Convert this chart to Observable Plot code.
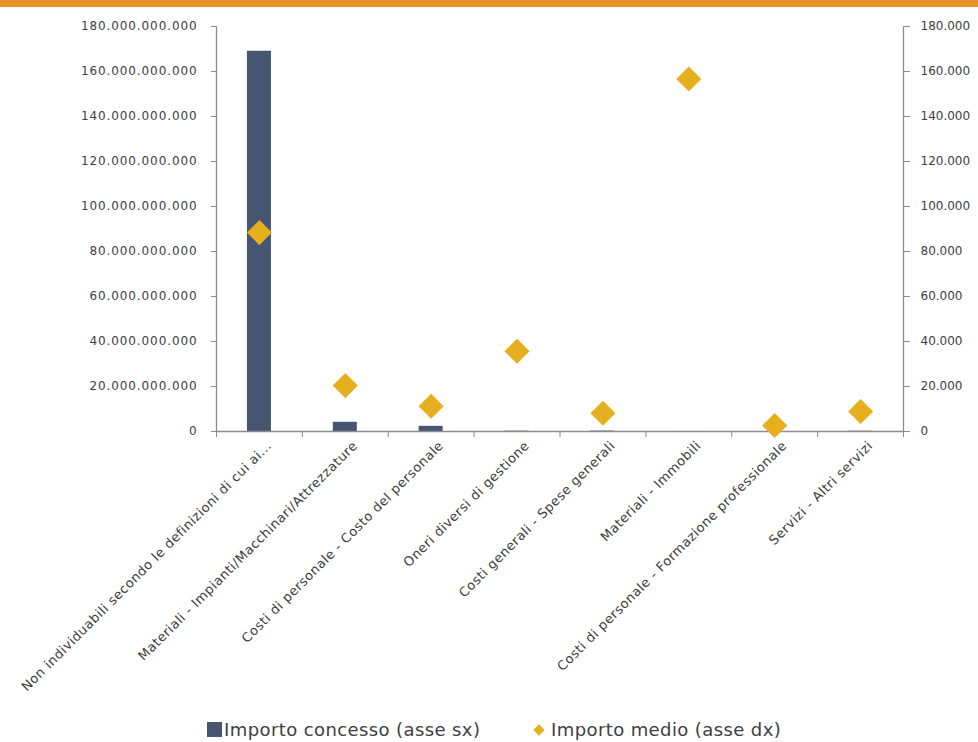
<!DOCTYPE html>
<html>
<head>
<meta charset="utf-8">
<script src="https://cdn.jsdelivr.net/npm/d3@7"></script>
<script src="https://cdn.jsdelivr.net/npm/@observablehq/plot@0.6"></script>
<style>
  html, body { margin: 0; padding: 0; background: #fff; }
  #wrap { position: relative; width: 978px; height: 742px; overflow: hidden; }
  #band { height: 7px; background: #E8922A; }
  #chart svg { display: block; }
  #legend { position: absolute; left: 0; top: 700px; width: 978px; height: 42px;
    font-family: "DejaVu Sans", sans-serif; font-size: 18px; letter-spacing: 0.4px; color: #404040; }
  .item { position: absolute; top: 19px; display: flex; align-items: center; white-space: nowrap; }
  .sq { width: 15px; height: 15px; background: #465670; margin-right: 2px; }
  .dm { width: 8px; height: 8px; background: #E5AF1E; transform: rotate(45deg); margin-right: 8px; margin-left: 2px; }
  .lt text { letter-spacing: 0.9px; }
  .xl text { letter-spacing: 0.5px; font-size: 13px; }
</style>
</head>
<body>
<div id="wrap">
  <div id="band"></div>
  <div id="chart"></div>
  <div id="legend">
    <div class="item" style="left:207px"><div class="sq"></div><span>Importo concesso (asse sx)</span></div>
    <div class="item" style="left:533px"><div class="dm"></div><span>Importo medio (asse dx)</span></div>
  </div>
</div>
<script>
const categories = [
  "Non individuabili secondo le definizioni di cui ai...",
  "Materiali - Impianti/Macchinari/Attrezzature",
  "Costi di personale - Costo del personale",
  "Oneri diversi di gestione",
  "Costi generali - Spese generali",
  "Materiali - Immobili",
  "Costi di personale - Formazione professionale",
  "Servizi - Altri servizi"
];
// Importo concesso (asse sx), euro
const importoConcesso = [169000000000, 4100000000, 2300000000, 150000000, 200000000, 20000000, 10000000, 100000000];
// Importo medio (asse dx), euro
const importoMedio = [88400, 20400, 11200, 35700, 8100, 156700, 2700, 8900];
const leftTicks = [0, 20e9, 40e9, 60e9, 80e9, 100e9, 120e9, 140e9, 160e9, 180e9];
const rightTicks = [0, 20000, 40000, 60000, 80000, 100000, 120000, 140000, 160000, 180000];

const RATIO = 1e6; // right axis maps onto left axis: 180.000 <-> 180.000.000.000
const it = d3.formatLocale({decimal: ",", thousands: ".", grouping: [3], currency: ["€", ""]});
const fmt = it.format(",");

const rows = categories.map((c, i) => ({i, c, concesso: importoConcesso[i], medio: importoMedio[i]}));

const W = 978, H = 693;
const mL = 216, mR = 75;
const band = (W - mL - mR) / categories.length;
const barW = 24;
const axisColor = "#8c8c8c";

const chart = Plot.plot({
  width: W,
  height: H,
  marginLeft: mL,
  marginRight: mR,
  marginTop: 19,
  marginBottom: 269,
  style: {fontFamily: "DejaVu Sans, sans-serif", fontSize: "12px", color: "#404040", background: "#fff"},
  x: {domain: [0, categories.length], axis: null},
  y: {domain: [0, 180e9], axis: null},
  marks: [
    Plot.rectY(rows, {x1: d => d.i, x2: d => d.i + 1, y: "concesso", fill: "#465670",
      insetLeft: (band - barW) / 2, insetRight: (band - barW) / 2}),
    Plot.ruleX([0, categories.length], {y1: 0, y2: 180e9, stroke: axisColor, strokeWidth: 1.3}),
    Plot.ruleY([0], {stroke: axisColor, strokeWidth: 1.3}),
    Plot.axisY(leftTicks, {anchor: "left", label: null, className: "lt", tickSize: 5, tickPadding: 14, tickFormat: fmt, stroke: axisColor, fill: "#404040"}),
    Plot.axisY(rightTicks.map(v => v * RATIO), {anchor: "right", label: null, tickSize: 6, tickPadding: 11, tickFormat: v => fmt(v / RATIO), stroke: axisColor, fill: "#404040"}),
    Plot.axisX(d3.range(categories.length + 1), {label: null, tickSize: 6, tickFormat: () => "", stroke: axisColor}),
    Plot.axisX(d3.range(categories.length).map(i => i + 0.5), {label: null, className: "xl", tickSize: 0, tickPadding: 12, tickRotate: -45,
      tickFormat: d => categories[d - 0.5], fill: "#404040", dx: 10}),
    Plot.dot(rows, {x: d => d.i + 0.5, y: d => d.medio * RATIO, symbol: "diamond2", r: 11.3, fill: "#E5AF1E", stroke: "none"})
  ]
});
document.getElementById("chart").appendChild(chart);
</script>
</body>
</html>
